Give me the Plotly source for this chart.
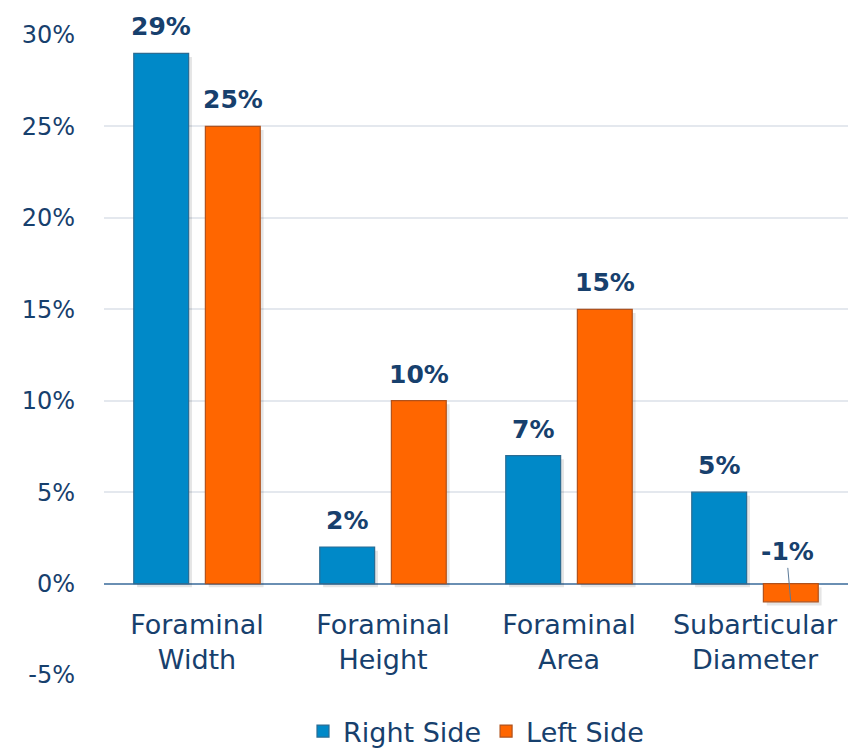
import plotly.graph_objects as go

# Percent change by measurement
categories = ["Foraminal<br>Width", "Foraminal<br>Height", "Foraminal<br>Area", "Subarticular<br>Diameter"]
right_side = [29, 2, 7, 5]
left_side = [25, 10, 15, -1]
y_ticks = [-5, 0, 5, 10, 15, 20, 25, 30]

FONT = "'DejaVu Sans', 'Open Sans', sans-serif"
NAVY = "#17406D"
BLUE = "#0089C8"
ORANGE = "#FF6600"

x_idx = list(range(len(categories)))
W = 0.295
OFF_R = -0.34
OFF_L = 0.045

fig = go.Figure()

# soft drop shadows behind the bars
for vals, off in ((right_side, OFF_R), (left_side, OFF_L)):
    fig.add_trace(go.Bar(
        x=x_idx, y=vals, base=[-0.2] * len(vals),
        offset=off + 0.018, width=W, marker=dict(color="rgba(0,0,0,0.10)", line_width=0),
        showlegend=False, hoverinfo="skip"))

fig.add_trace(go.Bar(
    x=x_idx, y=right_side, name="Right Side", offset=OFF_R, width=W,
    marker=dict(color=BLUE, line=dict(color="#2B6C93", width=1.2))))
fig.add_trace(go.Bar(
    x=x_idx, y=left_side, name="Left Side", offset=OFF_L, width=W,
    marker=dict(color=ORANGE, line=dict(color="#B0521C", width=1.2))))

# value labels
annotations = []
for i, (r, l) in enumerate(zip(right_side, left_side)):
    for v, off in ((r, OFF_R), (l, OFF_L)):
        xc = i + off + W / 2
        if v >= 0:
            annotations.append(dict(x=xc, y=v, text=f"<b>{v}%</b>", showarrow=False,
                                    yanchor="bottom", yshift=10,
                                    font=dict(size=25, color=NAVY, family=FONT)))
        else:
            annotations.append(dict(x=xc, y=v, text=f"<b>{v}%</b>", showarrow=True,
                                    arrowhead=0, arrowwidth=1, arrowcolor="#5B7A99",
                                    ax=-3, ay=-34, yanchor="bottom",
                                    font=dict(size=25, color=NAVY, family=FONT)))

fig.update_layout(
    barmode="overlay",
    width=854, height=752,
    margin=dict(l=104, r=6, t=35, b=77, autoexpand=False),
    plot_bgcolor="white", paper_bgcolor="white",
    font=dict(family=FONT, color=NAVY),
    annotations=annotations,
    legend=dict(orientation="h", x=0.5, xanchor="center",
                y=-0.05, yanchor="top",
                font=dict(size=27, color=NAVY, family=FONT), traceorder="normal",
                itemwidth=30),
    showlegend=True,
    xaxis=dict(tickmode="array", tickvals=x_idx, ticktext=categories,
               range=[-0.5, len(categories) - 0.5], showgrid=False, showline=False,
               tickfont=dict(size=27, color=NAVY, family=FONT), ticks="",
               anchor="free", position=0.142, zeroline=False, ticklabelstandoff=22,
               automargin=False),
    yaxis=dict(range=[-5, 30], tickvals=y_ticks, ticktext=[f"{t}%" for t in y_ticks],
               showgrid=True, gridcolor="#E4E8EE", gridwidth=1.5,
               zeroline=True, zerolinecolor="#6A8FB3", zerolinewidth=2,
               tickfont=dict(size=24, color=NAVY, family=FONT), ticks="",
               ticklabelstandoff=28, automargin=False),
)

fig.write_html("out.html")
